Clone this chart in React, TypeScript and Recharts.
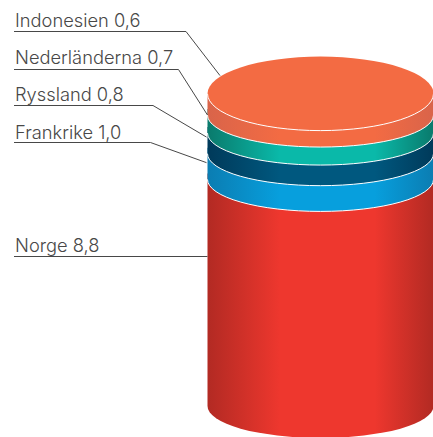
// App.tsx - stacked cylinder with leader labels

import React from 'react';
import { BarChart, Bar, XAxis, YAxis, LabelList } from 'recharts';

// --- Data, bottom of the stack first ---
const countries = ['Norge', 'Frankrike', 'Ryssland', 'Nederländerna', 'Indonesien'];
const values = [8.8, 1.0, 0.8, 0.7, 0.6];
const axisMax = 11.9;

const chartData = [
  countries.reduce((row: any, name, i) => ({ ...row, [name]: values[i] }), { name: 'Total' }),
];

// --- Colours: edge of the cylinder, middle of the cylinder ---
const sideColors = [
  ['#B22A23', '#EE372E'],
  ['#0B7DB2', '#079FDD'],
  ['#003A5A', '#00587F'],
  ['#0A7A6C', '#0AB9A9'],
  ['#D9644A', '#F36B43'],
];
const faceColor = '#F36B43';
const lineColor = '#484848';

// --- Leader lines: line height, elbow, and the end relative to the segment ---
const leaders = [
  { lineY: 256.5, elbowX: 207, endDx: 0, endDy: 77, textY: 252 },
  { lineY: 142.5, elbowX: 150.5, endDx: -1, endDy: 9, textY: 139 },
  { lineY: 105.5, elbowX: 153, endDx: -1, endDy: 4, textY: 101 },
  { lineY: 69.5, elbowX: 178.5, endDx: 0, endDy: 0, textY: 64 },
  { lineY: 31.5, elbowX: 186, endDx: 12.5, endDy: -24, textY: 27 },
];

const ARC_RY = 32;
const FACE_RY = 37;
const FACE_DY = 6;

// --- One slice of the cylinder, the top one also gets the lid ---
const CylinderSlice = (props: any) => {
  const { x, y, width, height, seriesIndex } = props;
  const rx = width / 2;
  const bottom = y + height;
  const top = y - FACE_DY;
  const isTop = seriesIndex === countries.length - 1;
  const side = `M${x},${top} L${x},${bottom} A${rx},${ARC_RY} 0 0 0 ${x + width},${bottom} L${x + width},${top} Z`;
  return (
    <g>
      <path d={side} fill={`url(#side-${seriesIndex})`} />
      {seriesIndex > 0 && (
        <path
          d={`M${x},${bottom} A${rx},${ARC_RY} 0 0 0 ${x + width},${bottom}`}
          fill="none"
          stroke="#FFFFFF"
          strokeWidth={1}
        />
      )}
      {isTop && (
        <g>
          <ellipse cx={x + rx} cy={top} rx={rx} ry={FACE_RY} fill={faceColor} />
          <path
            d={`M${x},${top} A${rx},${FACE_RY} 0 0 0 ${x + width},${top}`}
            fill="none"
            stroke="#FFFFFF"
            strokeWidth={1}
          />
        </g>
      )}
    </g>
  );
};

// --- Text with its leader line ---
const renderLeader = (seriesIndex: number) => (props: any) => {
  const { x, y, value } = props;
  const leader = leaders[seriesIndex];
  const points = [
    [14, leader.lineY],
    [leader.elbowX, leader.lineY],
    [x + leader.endDx, y + leader.endDy],
  ];
  return (
    <g>
      <polyline
        points={points.map((p) => p.join(',')).join(' ')}
        fill="none"
        stroke={lineColor}
        strokeWidth={1}
      />
      <text
        x={15}
        y={leader.textY}
        fill={lineColor}
        fontFamily="Inter, sans-serif"
        fontSize={18.3}
        fontWeight={300}
      >
        {`${countries[seriesIndex]} ${Number(value).toFixed(1).replace('.', ',')}`}
      </text>
    </g>
  );
};

export default function App() {
  return (
    <div style={{ position: 'absolute', left: 0, top: 0, width: 433, height: 437, overflow: 'hidden' }}>
      <BarChart
        width={433}
        height={437}
        data={chartData}
        margin={{ top: 99.6, right: 0, bottom: 31, left: 207.5 }}
        barCategoryGap={0}
      >
        <defs>
          {sideColors.map(([edge, middle], i) => (
            <linearGradient key={i} id={`side-${i}`} x1="0" y1="0" x2="1" y2="0">
              <stop offset="0" stopColor={edge} />
              <stop offset="0.32" stopColor={middle} />
              <stop offset="0.74" stopColor={middle} />
              <stop offset="1" stopColor={edge} />
            </linearGradient>
          ))}
        </defs>
        <XAxis dataKey="name" hide />
        <YAxis hide domain={[0, axisMax]} />
        {countries.map((name, i) => (
          <Bar
            key={name}
            dataKey={name}
            stackId="total"
            isAnimationActive={false}
            shape={(props: any) => <CylinderSlice {...props} seriesIndex={i} />}
          >
            <LabelList dataKey={name} content={renderLeader(i)} />
          </Bar>
        ))}
      </BarChart>
    </div>
  );
}
